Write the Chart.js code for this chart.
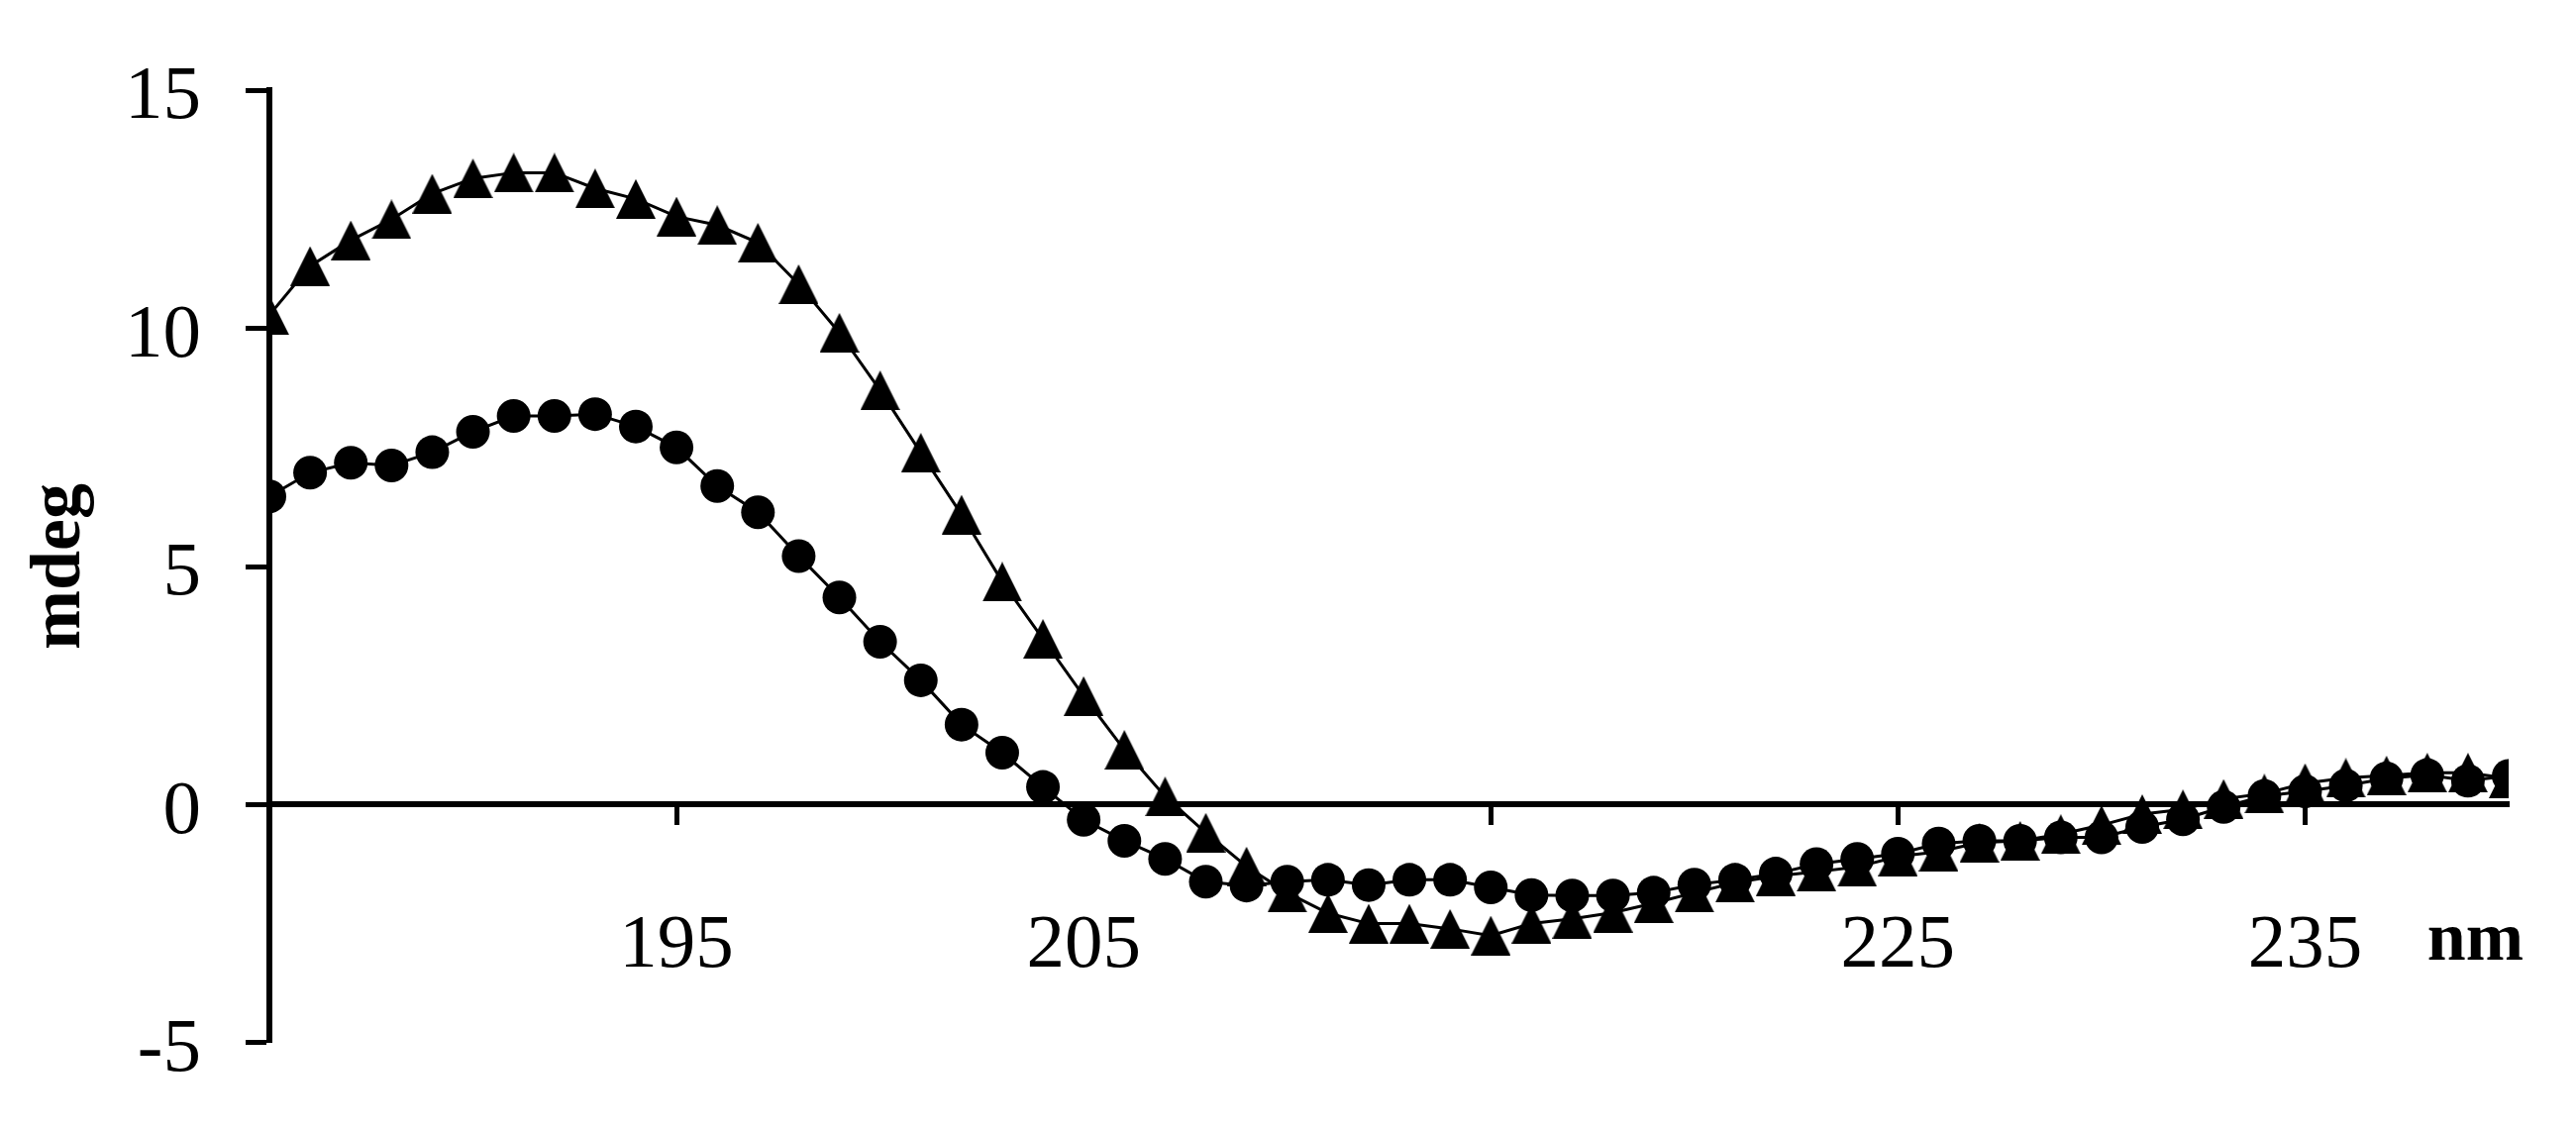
<!DOCTYPE html>
<html>
<head>
<meta charset="utf-8">
<title>CD spectrum</title>
<script src="https://cdn.jsdelivr.net/npm/chart.js@4.4.1/dist/chart.umd.min.js"></script>
<style>
  html, body { margin: 0; padding: 0; background: #ffffff; }
  #chartBox { position: relative; width: 2601px; height: 1144px; }
</style>
</head>
<body>
<div id="chartBox"><canvas id="cdChart"></canvas></div>
<script>
// ============================================================================
// DATA
// ============================================================================

// Wavelength, nm
const wavelengthsNm = [
  185, 186, 187, 188, 189, 190, 191, 192, 193, 194,
  195, 196, 197, 198, 199, 200, 201, 202, 203, 204,
  205, 206, 207, 208, 209, 210, 211, 212, 213, 214,
  215, 216, 217, 218, 219, 220, 221, 222, 223, 224,
  225, 226, 227, 228, 229, 230, 231, 232, 233, 234,
  235, 236, 237, 238, 239, 240
];

// Circle series, mdeg
const circleSeries = [
  6.47, 6.97, 7.18, 7.12, 7.40, 7.83, 8.16, 8.16, 8.20, 7.94,
  7.50, 6.69, 6.14, 5.22, 4.35, 3.42, 2.61, 1.68, 1.09, 0.37,
  -0.32, -0.76, -1.14, -1.62, -1.70, -1.62, -1.58, -1.69, -1.58, -1.58,
  -1.74, -1.90, -1.91, -1.91, -1.85, -1.68, -1.58, -1.45, -1.25, -1.14,
  -1.03, -0.82, -0.76, -0.76, -0.69, -0.69, -0.47, -0.31, -0.05, 0.18,
  0.28, 0.40, 0.55, 0.62, 0.50, 0.60
];

// Triangle series, mdeg
const triangleSeries = [
  10.28, 11.31, 11.85, 12.29, 12.83, 13.15, 13.27, 13.27, 12.94, 12.72,
  12.35, 12.17, 11.80, 10.93, 9.91, 8.70, 7.39, 6.09, 4.68, 3.48,
  2.28, 1.15, 0.17, -0.59, -1.30, -1.85, -2.28, -2.50, -2.50, -2.61,
  -2.75, -2.50, -2.40, -2.27, -2.07, -1.85, -1.64, -1.50, -1.41, -1.31,
  -1.09, -0.99, -0.80, -0.76, -0.62, -0.43, -0.20, -0.10, 0.12, 0.23,
  0.45, 0.56, 0.61, 0.67, 0.67, 0.55
];

// Axis ticks
const xTickValues = [185, 195, 205, 215, 225, 235];
const xTickLabels = ['', '195', '205', '', '225', '235'];
const yMin = -5;
const yMax = 15;
const yStep = 5;

// ============================================================================
// HELPERS
// ============================================================================

const SERIF = '"Liberation Serif", "Times New Roman", Times, serif';

// Filled triangle marker, centred on its bounding box like the original
function makeTriangleMarker(w, h) {
  const c = document.createElement('canvas');
  c.width = w;
  c.height = h;
  const ctx = c.getContext('2d');
  ctx.fillStyle = '#000000';
  ctx.beginPath();
  ctx.moveTo(w / 2, 0);
  ctx.lineTo(w, h);
  ctx.lineTo(0, h);
  ctx.closePath();
  ctx.fill();
  return c;
}

function toPoints(values) {
  return values.map((v, i) => ({ x: wavelengthsNm[i], y: v }));
}

// "nm" unit sits at the right end of the x axis, level with the tick labels
const unitLabelPlugin = {
  id: 'unitLabel',
  afterDraw(chart) {
    const { ctx, chartArea, scales } = chart;
    const zeroY = scales.y.getPixelForValue(0);
    ctx.save();
    ctx.font = 'bold 70px ' + SERIF;
    ctx.fillStyle = '#000000';
    ctx.textAlign = 'right';
    ctx.textBaseline = 'alphabetic';
    ctx.fillText('nm', chartArea.right + 15, zeroY + 157);
    ctx.restore();
  }
};

// ============================================================================
// CHART
// ============================================================================

function initCdChart() {
  try {
    if (typeof Chart === 'undefined') {
      console.warn('Chart.js not loaded');
      return;
    }
    const canvas = document.getElementById('cdChart');

    new Chart(canvas, {
      type: 'line',
      data: {
        datasets: [
          {
            label: 'circles',
            data: toPoints(circleSeries),
            borderColor: '#000000',
            borderWidth: 3,
            tension: 0,
            fill: false,
            pointStyle: 'circle',
            pointRadius: 17,
            pointBorderWidth: 0,
            pointBackgroundColor: '#000000'
          },
          {
            label: 'triangles',
            data: toPoints(triangleSeries),
            borderColor: '#000000',
            borderWidth: 3,
            tension: 0,
            fill: false,
            pointStyle: makeTriangleMarker(40, 40),
            pointRadius: 20,
            pointBorderWidth: 0,
            pointBackgroundColor: '#000000'
          }
        ]
      },
      options: {
        responsive: true,
        maintainAspectRatio: false,
        animation: false,
        layout: {
          padding: { left: 0, right: 68, top: 54, bottom: 69 }
        },
        plugins: {
          legend: { display: false },
          tooltip: { enabled: false }
        },
        scales: {
          x: {
            type: 'linear',
            position: { y: 0 },
            min: wavelengthsNm[0],
            max: wavelengthsNm[wavelengthsNm.length - 1],
            afterBuildTicks: (scale) => {
              scale.ticks = xTickValues.map(v => ({ value: v }));
            },
            border: { display: true, color: '#000000', width: 6 },
            grid: {
              drawOnChartArea: false,
              drawTicks: true,
              tickLength: 18,
              tickWidth: 5,
              tickColor: '#000000'
            },
            ticks: {
              autoSkip: false,
              maxRotation: 0,
              padding: 79,
              color: '#000000',
              font: { family: SERIF, size: 77 },
              callback: (value) => {
                const idx = xTickValues.indexOf(value);
                return idx >= 0 ? xTickLabels[idx] : '';
              }
            }
          },
          y: {
            type: 'linear',
            position: 'left',
            min: yMin,
            max: yMax,
            afterFit: (scale) => { scale.width = 272; },
            border: { display: true, color: '#000000', width: 6 },
            grid: {
              drawOnChartArea: false,
              drawTicks: true,
              tickLength: 24,
              tickWidth: 5,
              tickColor: '#000000'
            },
            ticks: {
              stepSize: yStep,
              padding: 45,
              labelOffset: 8,
              color: '#000000',
              font: { family: SERIF, size: 77 }
            },
            title: {
              display: true,
              text: 'mdeg',
              color: '#000000',
              font: { family: SERIF, size: 72, weight: 'bold' },
              padding: { top: 18, bottom: 0 }
            }
          }
        }
      },
      plugins: [unitLabelPlugin]
    });
  } catch (error) {
    console.error('Error initializing CD chart:', error);
  }
}

initCdChart();
</script>
</body>
</html>
